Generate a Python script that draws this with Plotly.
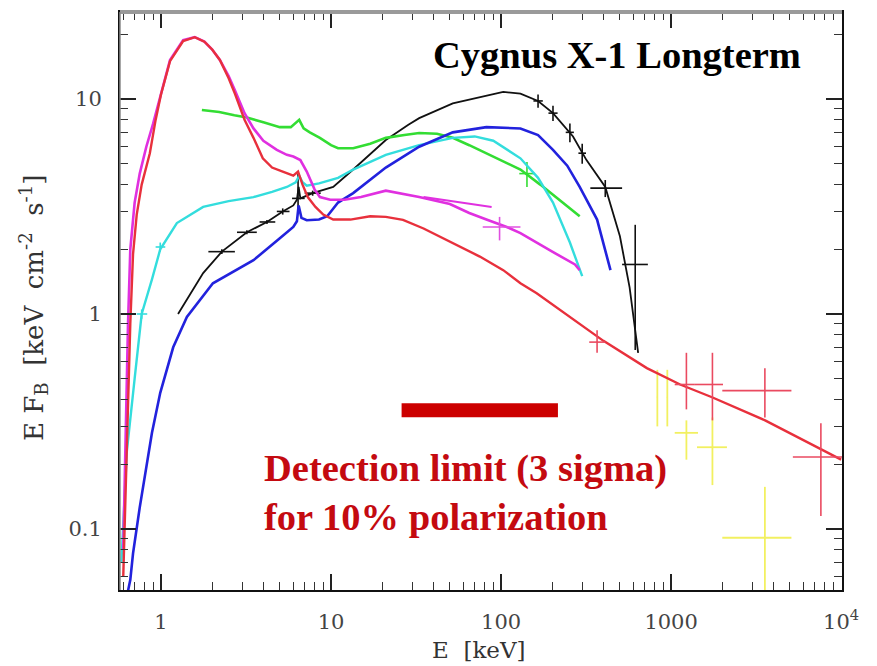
import plotly.graph_objects as go

# ---------------- data ----------------
red_E = [0.6, 0.62, 0.64, 0.66, 0.685, 0.72, 0.77, 0.86, 0.93, 1.0, 1.13, 1.35, 1.58, 1.8, 2.0, 2.22,
         2.5, 2.72, 3.1, 3.5, 3.97, 4.5, 5.2, 6.0, 6.4, 6.8, 7.3, 8.1, 9.0, 10.3, 13, 17, 21, 26.5, 35,
         52, 75, 103, 130, 162, 220, 300, 400, 720, 1130, 1740, 3570, 10000]
red_F = [0.06, 0.15, 0.4, 0.9, 1.9, 2.9, 4.0, 5.6, 8.0, 10.5, 15.0, 18.6, 19.4, 18.5, 17.0, 15.2,
         12.5, 10.6, 8.0, 6.6, 5.3, 4.8, 4.6, 4.4, 4.6, 4.0, 3.5, 3.15, 2.9, 2.75, 2.75, 2.85, 2.83, 2.74, 2.5,
         2.14, 1.85, 1.6, 1.39, 1.25, 1.05, 0.88, 0.75, 0.56, 0.47, 0.41, 0.32, 0.21]

mag_E = [0.6, 0.62, 0.64, 0.66, 0.7, 0.75, 0.82, 0.9, 1.0, 1.13, 1.35, 1.58, 1.8, 2.0, 2.22, 2.5, 2.72,
         3.1, 3.5, 4.0, 4.8, 5.5, 6.0, 6.6, 7.2, 8.0, 8.6, 9.9, 12, 15, 21, 33, 50, 65, 82, 108, 130, 162,
         200, 272, 290]
mag_F = [0.08, 0.3, 0.9, 2.0, 3.3, 4.5, 6.0, 7.7, 10.5, 15.2, 18.8, 19.4, 18.5, 17.0, 15.2, 12.8, 11.0,
         8.6, 7.3, 6.4, 5.8, 5.5, 5.4, 5.2, 4.6, 3.8, 3.5, 3.4, 3.4, 3.5, 3.75, 3.5, 3.25, 2.95, 2.75, 2.54,
         2.38, 2.14, 1.95, 1.7, 1.6]
mag2_E = [35, 50, 65, 88]
mag2_F = [3.5, 3.35, 3.25, 3.15]

grn_E = [1.74, 2.2, 2.7, 3.2, 4.0, 5.0, 5.8, 6.3, 6.5, 6.9, 7.5, 8.6, 10, 11, 13.5, 17, 21, 27, 33, 42,
         52, 65, 82, 100, 130, 170, 220, 265, 290]
grn_F = [8.9, 8.7, 8.4, 8.2, 7.8, 7.4, 7.4, 7.8, 8.0, 7.3, 7.0, 6.6, 6.1, 5.9, 5.9, 6.2, 6.6, 6.8, 6.95, 6.9,
         6.6, 6.1, 5.6, 5.2, 4.7, 4.0, 3.4, 3.0, 2.85]

cyn_E = [0.585, 0.63, 0.70, 0.77, 0.885, 0.99, 1.24, 1.77, 2.5, 3.5, 4.5, 5.5, 6.2, 6.5, 6.8, 7.2, 8.5,
         11, 13.5, 21, 33, 52, 70, 90, 130, 165, 202, 254, 300]
cyn_F = [0.07, 0.23, 0.5, 1.0, 1.45, 2.0, 2.65, 3.15, 3.35, 3.5, 3.7, 3.9, 4.1, 4.4, 4.1, 3.95, 4.05,
         4.3, 4.7, 5.5, 6.1, 6.6, 6.7, 6.4, 5.3, 4.3, 3.3, 2.15, 1.5]

blu_E = [0.635, 0.66, 0.685, 0.75, 0.885, 0.99, 1.18, 1.42, 2.02, 2.22, 3.5, 5.0, 6.0, 6.3, 6.45, 6.7,
         7.2, 8.5, 9.5, 11, 13.5, 21, 33, 52, 82, 130, 165, 202, 245, 290, 367, 440]
blu_F = [0.05, 0.058, 0.077, 0.126, 0.28, 0.43, 0.70, 0.97, 1.39, 1.45, 1.78, 2.25, 2.54, 2.7, 3.2, 2.8,
         2.73, 2.75, 2.85, 3.3, 3.65, 4.8, 6.0, 7.0, 7.4, 7.3, 6.8, 5.8, 4.9, 3.9, 2.75, 1.6]

blk_E = [1.26, 1.5, 1.77, 2.28, 2.8, 3.2, 4.2, 5.2, 6.0, 6.3, 6.45, 6.6, 7.8, 10.3, 13.5, 21, 28.5, 33,
         52, 82, 103, 130, 165, 202, 265, 318, 410, 500, 570, 640]
blk_F = [1.0, 1.25, 1.55, 1.95, 2.2, 2.4, 2.68, 3.0, 3.2, 3.4, 3.9, 3.45, 3.65, 3.9, 4.7, 6.45, 7.6, 8.15,
         9.55, 10.4, 10.8, 10.6, 9.8, 8.6, 6.7, 5.2, 3.9, 2.3, 1.33, 0.66]

# black error crosses: centre, x low/high, y low/high
blkx_E = [2.28, 3.2, 4.2, 5.2, 6.4, 7.8, 165, 202, 254, 300, 410, 615]
blkx_F = [1.95, 2.4, 2.68, 3.0, 3.45, 3.65, 9.8, 8.6, 7.0, 5.6, 3.85, 1.7]
blkx_Elo = [1.9, 2.8, 3.8, 4.8, 5.9, 7.0, 155, 190, 240, 285, 335, 515]
blkx_Ehi = [2.72, 3.66, 4.7, 5.7, 7.0, 8.7, 176, 215, 268, 316, 515, 730]
blkx_Flo = [1.9, 2.35, 2.62, 2.9, 3.1, 3.55, 9.1, 7.9, 6.3, 5.0, 3.5, 0.68]
blkx_Fhi = [2.0, 2.45, 2.74, 3.1, 4.5, 3.75, 10.5, 9.3, 7.7, 6.2, 4.2, 2.6]

# small crosses on the coloured spectra
magx_E = [98]
magx_F = [2.54]
magx_Elo = [78]
magx_Ehi = [130]
magx_Flo = [2.2]
magx_Fhi = [2.83]

grnx_E = [142]
grnx_F = [4.5]
grnx_Elo = [128]
grnx_Ehi = [158]
grnx_Flo = [3.9]
grnx_Fhi = [5.1]

cynx_E = [0.77, 0.99]
cynx_F = [1.0, 2.05]
cynx_Elo = [0.72, 0.93]
cynx_Ehi = [0.83, 1.06]
cynx_Flo = [0.95, 1.95]
cynx_Fhi = [1.05, 2.15]

# red crosses (data and high-energy points)
redx_E = [367, 1230, 1750, 3560, 7600]
redx_F = [0.74, 0.47, 0.47, 0.44, 0.216]
redx_Elo = [330, 1050, 1380, 2000, 5200]
redx_Ehi = [410, 1380, 2020, 5100, 10200]
redx_Flo = [0.66, 0.36, 0.32, 0.33, 0.115]
redx_Fhi = [0.84, 0.66, 0.66, 0.56, 0.31]

# yellow high-energy crosses
yelx_E = [830, 950, 1230, 1750, 3560]
yelx_F = [0.41, 0.41, 0.28, 0.24, 0.091]
yelx_Elo = [825, 945, 1050, 1420, 2000]
yelx_Ehi = [835, 955, 1440, 2130, 5100]
yelx_Flo = [0.30, 0.30, 0.21, 0.16, 0.045]
yelx_Fhi = [0.55, 0.55, 0.32, 0.33, 0.157]

# detection-limit bar
bar_E = [26, 216]
bar_F = [0.357, 0.357]

x_tickvals = [1, 10, 100, 1000, 10000]
x_ticktext = ["1", "10", "100", "1000", "10<sup>4</sup>"]
y_tickvals = [0.1, 1, 10]
y_ticktext = ["0.1", "1", "10"]

# ---------------- figure ----------------
fig = go.Figure()


def line(E, F, color, width=2.2):
    fig.add_trace(go.Scatter(x=E, y=F, mode="lines", line=dict(color=color, width=width),
                             showlegend=False, hoverinfo="skip"))


def crosses(E, F, Elo, Ehi, Flo, Fhi, color, width=1.6):
    fig.add_trace(go.Scatter(
        x=E, y=F, mode="markers", marker=dict(size=1, color=color), showlegend=False,
        error_x=dict(type="data", symmetric=False,
                     array=[h - c for h, c in zip(Ehi, E)],
                     arrayminus=[c - l for l, c in zip(Elo, E)],
                     color=color, thickness=width, width=0),
        error_y=dict(type="data", symmetric=False,
                     array=[h - c for h, c in zip(Fhi, F)],
                     arrayminus=[c - l for l, c in zip(Flo, F)],
                     color=color, thickness=width, width=0),
        hoverinfo="skip"))


line(blk_E, blk_F, "#111111", 1.8)
crosses(blkx_E, blkx_F, blkx_Elo, blkx_Ehi, blkx_Flo, blkx_Fhi, "#111111", 1.6)
line(grn_E, grn_F, "#33dd33", 2.6)
crosses(grnx_E, grnx_F, grnx_Elo, grnx_Ehi, grnx_Flo, grnx_Fhi, "#33dd33", 1.6)
line(cyn_E, cyn_F, "#33dddd", 2.4)
crosses(cynx_E, cynx_F, cynx_Elo, cynx_Ehi, cynx_Flo, cynx_Fhi, "#33dddd", 1.6)
line(blu_E, blu_F, "#2222dd", 2.6)
line(mag_E, mag_F, "#e030e0", 2.6)
line(mag2_E, mag2_F, "#e030e0", 2.0)
crosses(magx_E, magx_F, magx_Elo, magx_Ehi, magx_Flo, magx_Fhi, "#e050e0", 1.6)
crosses(yelx_E, yelx_F, yelx_Elo, yelx_Ehi, yelx_Flo, yelx_Fhi, "#f2f060", 1.8)
line(red_E, red_F, "#e8303c", 2.4)
crosses(redx_E, redx_F, redx_Elo, redx_Ehi, redx_Flo, redx_Fhi, "#ea4a60", 1.6)
line(bar_E, bar_F, "#cc0000", 14)

minor_vals = [m * 10 ** k for k in range(-2, 5) for m in range(2, 10)]

axis_common = dict(
    type="log", showgrid=False, zeroline=False, automargin=False,
    showline=True, linecolor="#111111", linewidth=2, mirror="allticks",
    ticks="inside", ticklen=16, tickwidth=1.6, tickcolor="#222222",
    tickfont=dict(family="DejaVu Serif", size=21, color="#444444"),
    minor=dict(ticks="inside", ticklen=8, tickwidth=1.3, tickcolor="#333333",
               tickmode="array", tickvals=minor_vals, showgrid=False),
)

fig.update_xaxes(range=[-0.241, 4.005], tickmode="array", tickvals=x_tickvals, ticktext=x_ticktext,
                 ticklabelstandoff=12, **axis_common)
fig.update_yaxes(range=[-1.284, 1.405], tickmode="array", tickvals=y_tickvals, ticktext=y_ticktext,
                 ticklabelstandoff=12, **axis_common)

# frame details: grey top and left borders
fig.add_shape(type="line", xref="paper", yref="paper", x0=0, x1=1, y0=1, y1=1,
              line=dict(color="#9a9a9a", width=4), layer="above")
fig.add_shape(type="line", xref="paper", yref="paper", x0=0, x1=0, y0=0, y1=1,
              line=dict(color="#8a8a8a", width=1.5), layer="above")

W, H = 877, 666
L, R, T, B = 120, 35, 12, 76
pw, ph = W - L - R, H - T - B


def px(x):
    return (x - L) / pw


def py(y):
    return 1 - (y - T) / ph


fig.add_annotation(text="<b>Cygnus X-1 Longterm</b>", x=px(617), y=py(55), xref="paper", yref="paper",
                   showarrow=False, xanchor="center", yanchor="middle",
                   font=dict(family="Liberation Serif", size=38.5, color="#000000"))
fig.add_annotation(text="<b>Detection limit (3 sigma)</b>", x=px(262), y=py(468), xref="paper", yref="paper",
                   showarrow=False, xanchor="left", yanchor="middle",
                   font=dict(family="Liberation Serif", size=38.5, color="#c40a10"))
fig.add_annotation(text="<b>for 10% polarization</b>", x=px(262), y=py(517), xref="paper", yref="paper",
                   showarrow=False, xanchor="left", yanchor="middle",
                   font=dict(family="Liberation Serif", size=38.5, color="#c40a10"))
fig.add_annotation(text="E  [keV]", x=px(479), y=py(650), xref="paper", yref="paper",
                   showarrow=False, xanchor="center", yanchor="middle",
                   font=dict(family="DejaVu Serif", size=23, color="#333333"))
fig.add_annotation(text="E F<sub>B</sub>  [keV  cm<sup>-2</sup>  s<sup>-1</sup>]", x=px(33), y=py(308),
                   xref="paper", yref="paper", textangle=-90,
                   showarrow=False, xanchor="center", yanchor="middle",
                   font=dict(family="DejaVu Serif", size=26, color="#333333"))

fig.update_layout(width=W, height=H, margin=dict(l=L, r=R, t=T, b=B),
                  plot_bgcolor="white", paper_bgcolor="white", showlegend=False)

fig.write_html("out.html", config={"displayModeBar": False},
               post_script="document.body.style.margin='0';document.body.style.overflow='hidden';")
